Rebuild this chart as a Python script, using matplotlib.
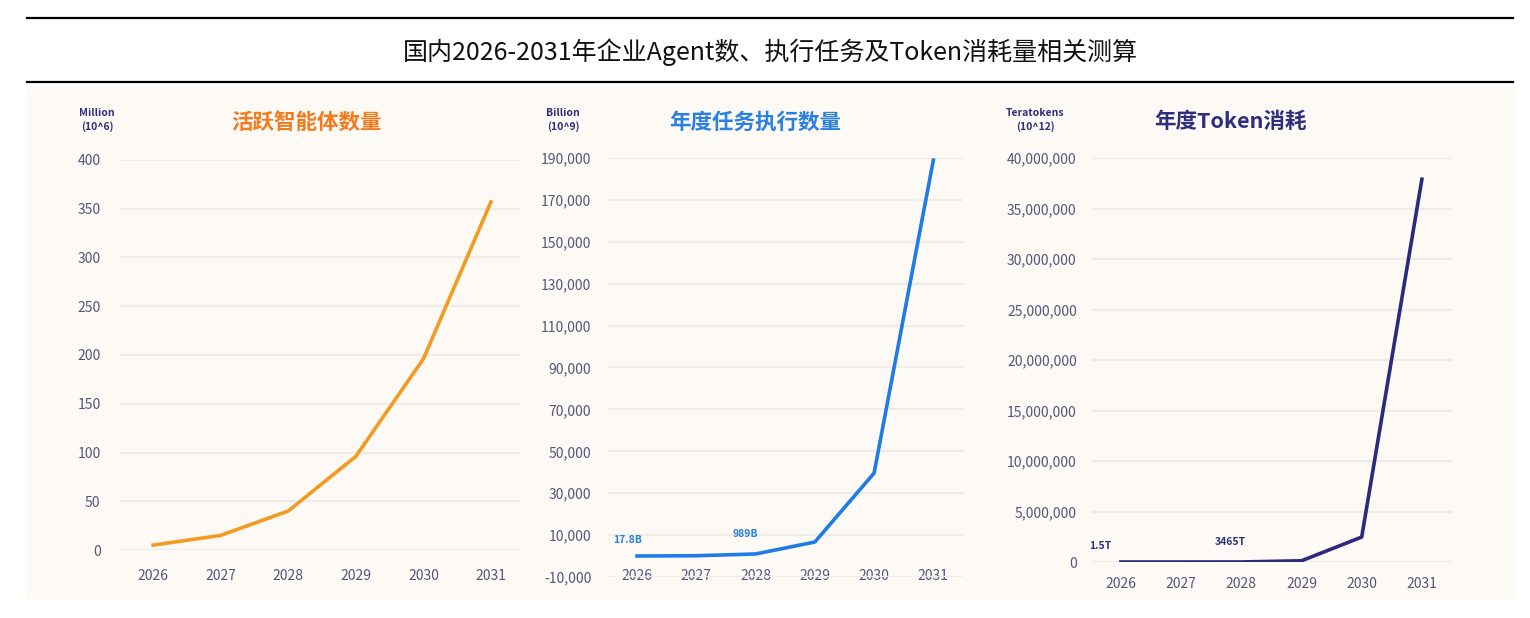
import matplotlib
matplotlib.use("Agg")
import matplotlib.pyplot as plt
from matplotlib.patches import Rectangle
from matplotlib.ticker import FuncFormatter

plt.rcParams['font.family'] = ['Noto Sans CJK SC', 'DejaVu Sans']

# === DATA ===
years = [2026, 2027, 2028, 2029, 2030, 2031]
agents = [5, 15, 40, 96, 196, 357]                      # million
tasks = [17.8, 150, 989, 6700, 39600, 189000]           # billion
tokens = [1.5, 200, 3465, 120000, 2470000, 37900000]    # teratokens

agent_ticks = list(range(0, 401, 50))
task_ticks = list(range(-10000, 190001, 20000))
token_ticks = list(range(0, 40000001, 5000000))

main_title = "国内2026-2031年企业Agent数、执行任务及Token消耗量相关测算"
panel_titles = ["活跃智能体数量", "年度任务执行数量", "年度Token消耗"]
unit_labels = ["Million\n(10^6)", "Billion\n(10^9)", "Teratokens\n(10^12)"]
task_notes = ["17.8B", "989B"]
token_notes = ["1.5T", "3465T"]

# === COLORS ===
bg = "#fdfaf5"
grid_c = "#efebe6"
tick_c = "#55557a"
orange_line, orange_title = "#f39a22", "#f47a1c"
blue_line, blue_title = "#1f7be6", "#2a80e2"
navy_line, navy_title = "#2b2a7c", "#2e2e80"

W, H = 1530, 618
fig = plt.figure(figsize=(W / 100, H / 100), dpi=100)
fig.patch.set_facecolor("white")

# frame lines and title
fig.add_artist(plt.Line2D([27 / W, 1513 / W], [1 - 18 / H, 1 - 18 / H], color="black", lw=1.6))
fig.add_artist(plt.Line2D([27 / W, 1513 / W], [1 - 82 / H, 1 - 82 / H], color="black", lw=1.6))
fig.text(770 / W, 1 - 52 / H, main_title, ha="center", va="center", fontsize=18, color="#111111")

# cream picture background
fig.add_artist(Rectangle((27 / W, 1 - 600 / H), (1513 - 27) / W, (600 - 86) / H,
                         transform=fig.transFigure, facecolor=bg, edgecolor="none", zorder=0))


def make_ax(x0, x1, y_top, y_bot):
    ax = fig.add_axes([x0 / W, 1 - y_bot / H, (x1 - x0) / W, (y_bot - y_top) / H])
    ax.set_facecolor("none")
    for s in ax.spines.values():
        s.set_visible(False)
    ax.grid(axis="y", color=grid_c, lw=1.6)
    ax.set_axisbelow(True)
    ax.set_xticks(years)
    ax.tick_params(length=0, colors=tick_c, labelsize=10)
    return ax


comma = FuncFormatter(lambda v, p: f"{int(v):,}")

# panel 1
ax1 = make_ax(120, 520, 160, 550)
ax1.plot(years, agents, color=orange_line, lw=2.6)
ax1.set_ylim(0, 400)
ax1.set_yticks(agent_ticks)
ax1.set_xlim(2025.51, 2031.43)
ax1.tick_params(axis="y", pad=14)
ax1.tick_params(axis="x", pad=14)

# panel 2
ax2 = make_ax(608, 963, 158, 577)
ax2.plot(years, tasks, color=blue_line, lw=2.6)
ax2.set_ylim(-10000, 190000)
ax2.set_yticks(task_ticks)
ax2.yaxis.set_major_formatter(comma)
ax2.set_xlim(2025.51, 2031.5)
ax2.tick_params(axis="y", pad=12)
ax2.tick_params(axis="x", pad=-6)
ax2.annotate(task_notes[0], (years[0], tasks[0]), xytext=(-7, 8), textcoords="offset points",
             ha="center", va="bottom", fontsize=7.5, fontweight="bold", color=blue_title)
ax2.annotate(task_notes[1], (years[2], tasks[2]), xytext=(-7, 11), textcoords="offset points",
             ha="center", va="bottom", fontsize=7.5, fontweight="bold", color=blue_title)

# panel 3
ax3 = make_ax(1092, 1452, 158, 562)
ax3.plot(years, tokens, color=navy_line, lw=2.6)
ax3.set_ylim(0, 40000000)
ax3.set_yticks(token_ticks)
ax3.yaxis.set_major_formatter(comma)
ax3.set_xlim(2025.52, 2031.5)
ax3.tick_params(axis="y", pad=11)
ax3.tick_params(axis="x", pad=11)
ax3.annotate(token_notes[0], (years[0], tokens[0]), xytext=(-15, 8), textcoords="offset points",
             ha="center", va="bottom", fontsize=7.5, fontweight="bold", color=navy_title)
ax3.annotate(token_notes[1], (years[2], tokens[2]), xytext=(-8, 11), textcoords="offset points",
             ha="center", va="bottom", fontsize=7.5, fontweight="bold", color=navy_title)

# panel titles and unit labels
for (cx, ux, col), t, u in zip([(306, 97, orange_title), (755, 563, blue_title), (1230, 1035, navy_title)],
                               panel_titles, unit_labels):
    fig.text(cx / W, 1 - 122 / H, t, ha="center", va="center", fontsize=15.5, fontweight="bold", color=col)
    fig.text(ux / W, 1 - 120 / H, u, ha="center", va="center", fontsize=7.5, fontweight="bold",
             color=navy_title, linespacing=1.3)

fig.savefig("out.png", dpi=100, facecolor="white")
